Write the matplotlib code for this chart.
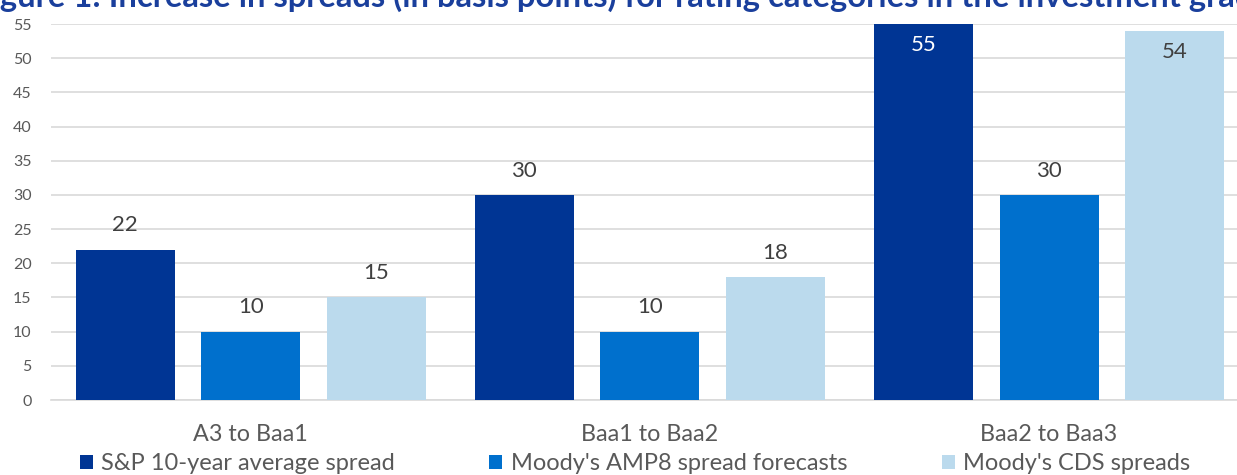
import matplotlib
matplotlib.use("Agg")
import matplotlib.pyplot as plt
from matplotlib.patches import Patch
import numpy as np

categories = ["A3 to Baa1", "Baa1 to Baa2", "Baa2 to Baa3"]
series_names = ["S&P 10-year average spread", "Moody's AMP8 spread forecasts", "Moody's CDS spreads"]
sp_avg = [22, 30, 55]
amp8 = [10, 10, 30]
cds = [15, 18, 54]
yticks = list(range(0, 56, 5))
title = "Figure 1: Increase in spreads (in basis points) for rating categories in the investment grade"

colors = ["#003594", "#0070CD", "#BBDAED"]
FONT = "Lato"
plt.rcParams['font.family'] = [FONT, 'DejaVu Sans']

W, H = 1237, 475
fig = plt.figure(figsize=(W / 100, H / 100), dpi=100)
left_px, right_px, bottom_px, top_px = 51, 1237, 400, 24
ax = fig.add_axes([left_px / W, 1 - bottom_px / H, (right_px - left_px) / W, (bottom_px - top_px) / H])

pitch = 399.25
xmax = (right_px - 250.5) / pitch
ax.set_xlim(-0.5, xmax)
ax.set_ylim(0, 55)

x = np.arange(len(categories))
bw = 99 / pitch
off = 125.5 / pitch
all_series = [sp_avg, amp8, cds]
for i, (vals, c, name) in enumerate(zip(all_series, colors, series_names)):
    bars = ax.bar(x + (i - 1) * off, vals, width=bw, color=c, label=name, zorder=3)
    for b, v in zip(bars, vals):
        cx = b.get_x() + b.get_width() / 2
        if v >= 50:
            tc = "white" if i == 0 else "#404040"
            ax.annotate(str(v), (cx, v), xytext=(0, -15), textcoords="offset points",
                        ha="center", va="center", fontsize=16, color=tc, zorder=4)
        else:
            ax.annotate(str(v), (cx, v), xytext=(0, 17.5), textcoords="offset points",
                        ha="center", va="center", fontsize=16, color="#404040", zorder=4)

ax.set_yticks(yticks)
ax.set_yticklabels([str(t) for t in yticks])
ax.set_xticks(x)
ax.set_xticklabels(categories)
ax.tick_params(axis="y", length=0, labelsize=11.5, labelcolor="#595959", pad=14)
ax.tick_params(axis="x", length=0, labelsize=16.8, labelcolor="#595959", pad=17)
ax.grid(axis="y", color="#D9D9D9", linewidth=1.2, zorder=0)
for s in ["top", "right", "left"]:
    ax.spines[s].set_visible(False)
ax.spines["bottom"].set_color("#D9D9D9")
ax.spines["bottom"].set_linewidth(1.2)

handles = [Patch(facecolor=c, edgecolor="none") for c in colors]
fig.legend(handles, series_names, loc="center", bbox_to_anchor=(0.5 * (80 + 1190) / W, 1 - 464 / H),
           ncol=3, frameon=False, fontsize=17, labelcolor="#595959",
           handlelength=0.55, handleheight=0.55, handletextpad=0.35, columnspacing=4.0,
           borderpad=0, borderaxespad=0)

fig.text(-27 / W, 1 - 7 / H, title, ha="left", va="baseline", fontsize=23.6,
         fontweight="bold", color="#1A3F9C")

fig.savefig("out.png", dpi=100)
